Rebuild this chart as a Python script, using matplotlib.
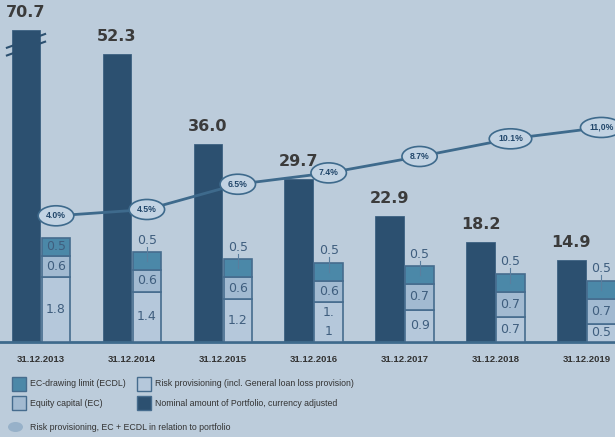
import matplotlib
matplotlib.use('Agg')
import numpy as np
import matplotlib.pyplot as plt
from matplotlib.patches import Rectangle, Ellipse

# portfolio development 2013-2019
years = ['31.12.2013', '31.12.2014', '31.12.2015', '31.12.2016',
         '31.12.2017', '31.12.2018', '31.12.2019']
portfolio = [70.7, 52.3, 36.0, 29.7, 22.9, 18.2, 14.9]
risk_prov = [1.8, 1.4, 1.2, 1.1, 0.9, 0.7, 0.5]
risk_labels = ['1.8', '1.4', '1.2', '1.\n1', '0.9', '0.7', '0.5']
equity = [0.6, 0.6, 0.6, 0.6, 0.7, 0.7, 0.7]
ecdl = [0.5, 0.5, 0.5, 0.5, 0.5, 0.5, 0.5]
ratio = [4.0, 4.5, 6.5, 7.4, 8.7, 10.1, 11.0]
ratio_labels = ['4.0%', '4.5%', '6.5%', '7.4%', '8.7%', '10.1%', '11,0%']

BG = '#BCCCDB'
DARK = '#2C5070'
C_ECDL = '#4B88A8'
C_EQ = '#A2BAD1'
C_RISK = '#B5C8DB'
EDGE = '#466C8E'
LINE = '#3E6A8C'
NARROW = ['Liberation Sans Narrow', 'Liberation Sans', 'DejaVu Sans']

W, H = 615, 437
fig = plt.figure(figsize=(W / 100, H / 100), dpi=100, facecolor=BG)


def fx(px):
    return px / W


def fy(py):
    return 1 - py / H


base_py = 342
ax = fig.add_axes([0, fy(base_py), 1, base_py / H])
ax.set_facecolor(BG)
ax2 = ax.twinx()
ax3 = ax.twinx()
for a in (ax, ax2, ax3):
    for s in a.spines.values():
        s.set_visible(False)
    a.set_yticks([])
ax2.patch.set_visible(False)
ax3.patch.set_visible(False)

x = np.arange(len(years))
bw = 0.314
off = 0.165
ax.set_xlim(-0.451, 6.315)
ax.set_ylim(0, base_py / 5.5)
ax2.set_ylim(0, base_py / 36)
ax3.set_ylim(-6.0, 21.1)

# nominal portfolio bars, first one is cut
cap = 56.7
heights = [min(v, cap) for v in portfolio]
ax.bar(x - off, heights, bw, color=DARK, edgecolor='#3D6182', lw=0.6, zorder=2)
for xi, h, v in zip(x, heights, portfolio):
    ax.text(xi - off, h + 1.8, f'{v:.1f}', ha='center', va='bottom',
            fontsize=11.5, fontweight='bold', color='#3B3B3B')

# break marks on the cut bar
x0 = x[0] - off
for dy in (0, 1.4):
    ax.plot([x0 - 0.21, x0 + 0.21], [cap - 3.2 - dy, cap - 0.7 - dy],
            color=DARK, lw=1.5, clip_on=False, zorder=3)

# stacked: risk provisioning, equity, ecdl
xs = x + off
eq_bottom = np.array(risk_prov)
ecdl_bottom = eq_bottom + np.array(equity)
ax2.bar(xs, risk_prov, bw, color=C_RISK, edgecolor=EDGE, lw=1.2, zorder=2)
ax2.bar(xs, equity, bw, bottom=eq_bottom, color=C_EQ, edgecolor=EDGE, lw=1.2, zorder=2)
ax2.bar(xs, ecdl, bw, bottom=ecdl_bottom, color=C_ECDL, edgecolor=EDGE, lw=1.2, zorder=2)

lab = dict(ha='center', va='center', fontsize=9, color='#3F5E7E')
for i in range(len(years)):
    ax2.text(xs[i], risk_prov[i] / 2, risk_labels[i], linespacing=1.6, **lab)
    ax2.text(xs[i], eq_bottom[i] + equity[i] / 2, f'{equity[i]:.1f}', **lab)
    top = ecdl_bottom[i] + ecdl[i]
    if i == 0:
        ax2.text(xs[i], ecdl_bottom[i] + ecdl[i] / 2, f'{ecdl[i]:.1f}', **lab)
    else:
        ax2.text(xs[i], top + 0.33, f'{ecdl[i]:.1f}', **lab)
        ax2.plot([xs[i], xs[i]], [top + 0.15, top - 0.25], color='#5A7E9E', lw=0.8, zorder=3)

# ratio line with ellipse labels
ax3.plot(xs, ratio, color=LINE, lw=2, zorder=3)
for xi, r, t in zip(xs, ratio, ratio_labels):
    ax3.text(xi, r, t, ha='center', va='center', fontsize=6.2, fontweight='bold',
             family=NARROW, color='#22476B', zorder=4,
             bbox=dict(boxstyle='ellipse,pad=0.3', fc='#C2D3E3', ec=LINE, lw=1.2))

# baseline and x labels
ax.axhline(0, color=LINE, lw=2, zorder=3, clip_on=False)
ax.set_xticks(x)
ax.set_xticklabels(years, fontsize=6.8, fontweight='bold', color='#333333', family=NARROW)
ax.tick_params(axis='x', length=0, pad=9)

# legend
rows = [(12, 384, C_ECDL, 'EC-drawing limit (ECDL)'),
        (137, 384, C_RISK, 'Risk provisioning (incl. General loan loss provision)'),
        (12, 403, C_EQ, 'Equity capital (EC)'),
        (137, 403, DARK, 'Nominal amount of Portfolio, currency adjusted')]
for px, py, c, t in rows:
    fig.patches.append(Rectangle((fx(px), fy(py + 7)), 14 / W, 14 / H, fc=c, ec=EDGE,
                                 lw=1, transform=fig.transFigure, figure=fig))
    fig.text(fx(px + 18), fy(py), t, ha='left', va='center', fontsize=6.3,
             family=NARROW, color='#333333')
fig.patches.append(Ellipse((fx(15.5), fy(427)), 15 / W, 10 / H, fc='#97B1C9', ec='none',
                           transform=fig.transFigure, figure=fig))
fig.text(fx(30), fy(427), 'Risk provisioning, EC + ECDL in relation to portfolio',
         ha='left', va='center', fontsize=6.3, family=NARROW, color='#333333')

fig.savefig('out.png', dpi=100, facecolor=BG)
